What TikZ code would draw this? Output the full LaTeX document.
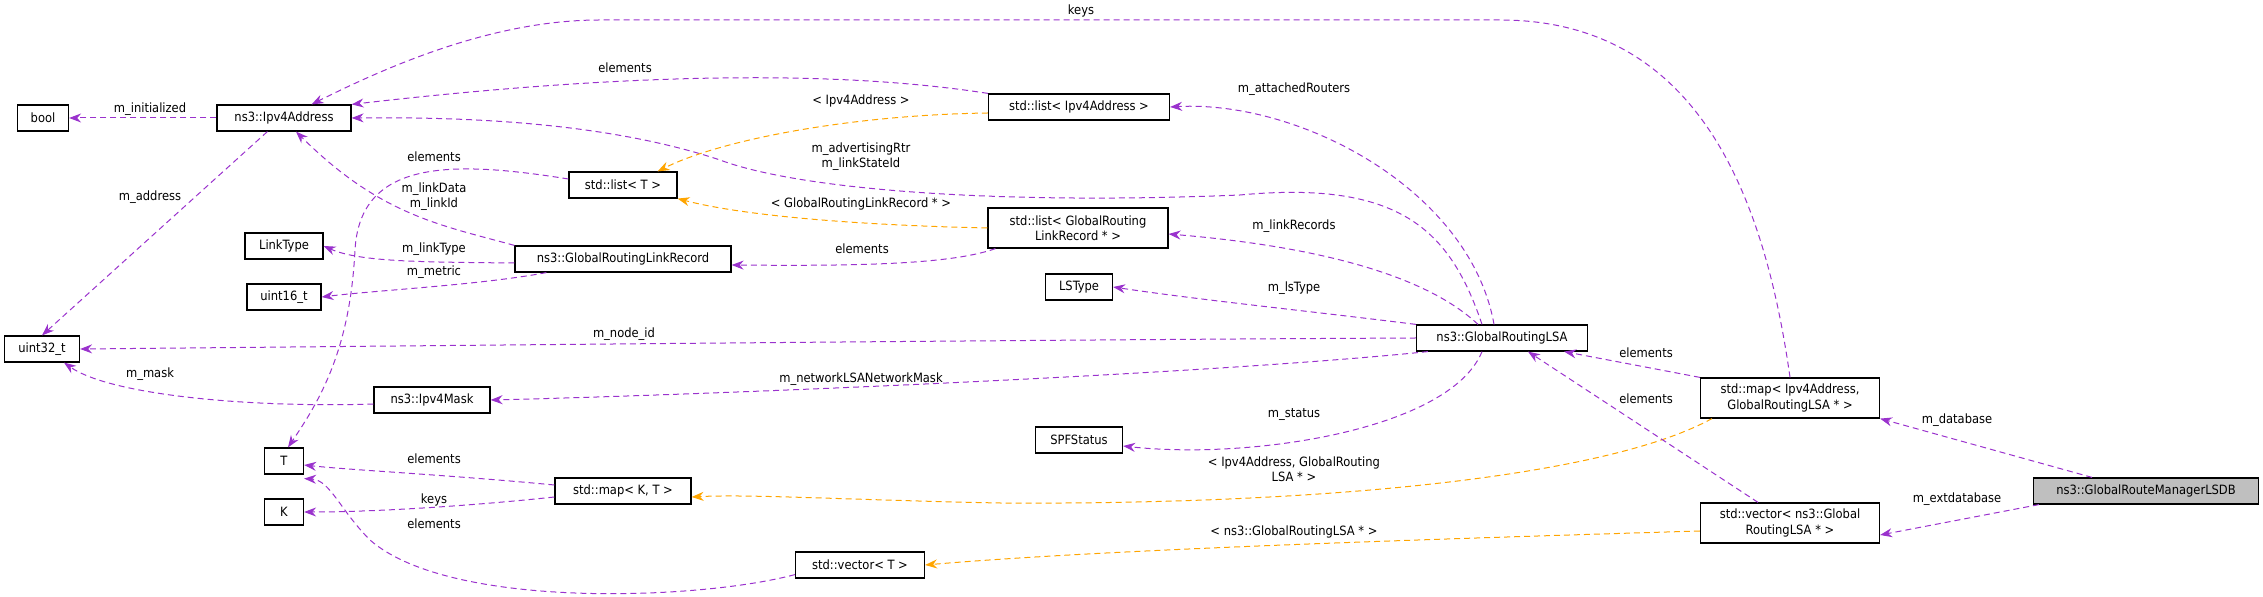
\documentclass[tikz,border=0pt]{standalone}
\usepackage{fontspec}
\setmainfont{DejaVu Sans Condensed}
\usetikzlibrary{arrows.meta}
\definecolor{pur}{HTML}{9A32CD}
\definecolor{ora}{HTML}{FFA500}
\definecolor{gr}{HTML}{BFBFBF}
\begin{document}
\begin{tikzpicture}[x=0.5pt,y=-0.5pt,
  box/.style={draw,line width=0.6pt,inner sep=2pt,minimum height=13pt,font=\fontsize{6.4}{7.6}\selectfont,align=center},
  lbl/.style={font=\fontsize{6.4}{7.6}\selectfont,align=center,inner sep=0pt},
  e/.style={draw=pur,line width=0.5pt,dash pattern=on 3pt off 2pt,-{Stealth[length=6pt,width=4.5pt,fill=pur]}},
  o/.style={draw=ora,line width=0.5pt,dash pattern=on 3pt off 2pt,-{Stealth[length=6pt,width=4.5pt,fill=ora]}}]
\useasboundingbox (0,0) rectangle (2263,597);
\node[box,minimum width=25.5pt] (bool) at (43,118) {bool};
\node[box,minimum width=67pt] (ip) at (284,118) {ns3::Ipv4Address};
\node[box,minimum width=39pt] (lt) at (284,246) {LinkType};
\node[box,minimum width=37pt] (u16) at (284,297) {uint16\_t};
\node[box,minimum width=37.5pt] (u32) at (42,349) {uint32\_t};
\node[box,minimum width=19.5pt] (T) at (284,461) {T};
\node[box,minimum width=19.5pt] (K) at (284,512) {K};
\node[box,minimum width=54pt] (lT) at (623,185) {std::list< T >};
\node[box,minimum width=108pt] (lr) at (623,259) {ns3::GlobalRoutingLinkRecord};
\node[box,minimum width=58pt] (mask) at (432,400) {ns3::Ipv4Mask};
\node[box,minimum width=68pt] (mKT) at (623,491) {std::map< K, T >};
\node[box,minimum width=64.5pt] (vT) at (860,565) {std::vector< T >};
\node[box,minimum width=90.5pt] (lip) at (1079,107) {std::list< Ipv4Address >};
\node[box,minimum width=90pt,minimum height=20pt,inner sep=1pt] (llr) at (1078,228) {std::list< GlobalRouting\\LinkRecord * >};
\node[box,minimum width=33.5pt] (ls) at (1079,287) {LSType};
\node[box,minimum width=43.5pt] (spf) at (1079,440) {SPFStatus};
\node[box,minimum width=85.5pt] (lsa) at (1502,338) {ns3::GlobalRoutingLSA};
\node[box,minimum width=89.5pt,minimum height=20pt,inner sep=1pt] (mip) at (1790,398) {std::map< Ipv4Address,\\GlobalRoutingLSA * >};
\node[box,minimum width=89.5pt,minimum height=20pt,inner sep=1pt] (vg) at (1790,523) {std::vector< ns3::Global\\RoutingLSA * >};
\node[box,fill=gr,minimum width=112.5pt] (db) at (2146,491) {ns3::GlobalRouteManagerLSDB};
% edges
\draw[e] (ip.west) -- (bool.east);
\draw[e] (ip.south west) ++(51,0) -- (u32.north);
\draw[e] (lip.north west) .. controls (850,72) and (650,70) .. (ip.north east);
\draw[e] (mip.north) .. controls (1765,200) and (1700,20) .. (1500,20) -- (600,20) .. controls (500,20) and (400,60) .. ([xshift=-20pt]ip.north east);
\draw[e] ([xshift=-10pt]lsa.north) .. controls (1450,230) and (1400,180) .. (1240,195) .. controls (1000,205) and (800,190) .. (720,160) .. controls (600,120) and (450,117) .. (ip.east);
\draw[e] ([xshift=-4pt]lsa.north) .. controls (1470,190) and (1300,100) .. (lip.east);
\draw[o] ([yshift=-3pt]lip.west) .. controls (850,115) and (720,140) .. ([xshift=-10pt]lT.north east);
\draw[o] (llr.west) .. controls (850,225) and (740,215) .. (lT.south east);
\draw[e] ([yshift=3pt]lT.west) .. controls (450,160) and (360,160) .. (355,250) .. controls (350,350) and (320,400) .. ([xshift=2pt]T.north);
\draw[e] (lr.north west) .. controls (440,225) and (380,215) .. ([xshift=6pt]ip.south);
\draw[e] ([yshift=-2pt]lr.west) .. controls (420,262) and (360,262) .. (lt.east);
\draw[e] ([xshift=16pt]lr.south west) .. controls (480,285) and (380,290) .. (u16.east);
\draw[e] ([xshift=4pt]llr.south west) .. controls (950,265) and (850,266) .. ([yshift=-3pt]lr.east);
\draw[e] ([xshift=-12pt]lsa.north) .. controls (1420,270) and (1300,245) .. ([yshift=-3pt]llr.east);
\draw[e] (lsa.north west) .. controls (1300,310) and (1200,300) .. (ls.east);
\draw[e] (lsa.west) .. controls (1000,340) and (400,346) .. (u32.east);
\draw[e] ([xshift=6pt]lsa.south west) .. controls (1200,375) and (700,395) .. (mask.east);
\draw[e] ([yshift=-2pt]mask.west) .. controls (250,408) and (110,395) .. ([xshift=11pt]u32.south);
\draw[e] ([xshift=-10pt]lsa.south) .. controls (1450,430) and (1250,460) .. ([yshift=-3pt]spf.east);
\draw[e] ([yshift=3pt]mKT.west) .. controls (450,475) and (350,470) .. ([yshift=-2pt]T.east);
\draw[e] ([yshift=-3pt]mKT.west) .. controls (480,505) and (380,512) .. (K.east);
\draw[e] ([yshift=2pt]vT.south west) .. controls (700,600) and (450,610) .. (370,540) .. controls (340,510) and (330,480) .. ([yshift=-2pt]T.south east);
\draw[o] ([xshift=6pt]mip.south west) .. controls (1600,480) and (1300,505) .. (1000,503) .. controls (850,500) and (750,494) .. ([yshift=-3pt]mKT.east);
\draw[o] ([yshift=-4pt]vg.west) .. controls (1400,540) and (1100,550) .. (vT.east);
\draw[e] (mip.north west) -- ([xshift=-12pt]lsa.south east);
\draw[e] ([xshift=-16pt]vg.north) -- ([xshift=13pt]lsa.south);
\draw[e] ([xshift=-27pt]db.north) -- (mip.south east);
\draw[e] ([xshift=3pt]db.south west) -- ([yshift=-6pt]vg.east);
% labels
\node[lbl] (l1) at (150,109) {m\_initialized};
\node[lbl] (l2) at (150,197) {m\_address};
\node[lbl] (l3) at (625,68) {elements};
\node[lbl] (l4) at (1081,11) {keys};
\node[lbl] (l5) at (861,101) {< Ipv4Address >};
\node[lbl] (l6) at (861,157) {m\_advertisingRtr\\m\_linkStateId};
\node[lbl] (l7) at (434,157) {elements};
\node[lbl] (l8) at (434,197) {m\_linkData\\m\_linkId};
\node[lbl] (l9) at (861,204) {< GlobalRoutingLinkRecord * >};
\node[lbl] (l10) at (434,249) {m\_linkType};
\node[lbl] (l11) at (434,272) {m\_metric};
\node[lbl] (l12) at (862,249) {elements};
\node[lbl] (l13) at (624,334) {m\_node\_id};
\node[lbl] (l14) at (150,374) {m\_mask};
\node[lbl] (l15) at (861,379) {m\_networkLSANetworkMask};
\node[lbl] (l16) at (434,459) {elements};
\node[lbl] (l17) at (434,500) {keys};
\node[lbl] (l18) at (434,524) {elements};
\node[lbl] (l19) at (1294,89) {m\_attachedRouters};
\node[lbl] (l20) at (1294,226) {m\_linkRecords};
\node[lbl] (l21) at (1294,288) {m\_lsType};
\node[lbl] (l22) at (1294,415) {m\_status};
\node[lbl] (l23) at (1294,469) {< Ipv4Address, GlobalRouting\\LSA * >};
\node[lbl] (l24) at (1294,532) {< ns3::GlobalRoutingLSA * >};
\node[lbl] (l25) at (1646,353) {elements};
\node[lbl] (l26) at (1646,399) {elements};
\node[lbl] (l27) at (1957,420) {m\_database};
\node[lbl] (l28) at (1957,499) {m\_extdatabase};
\end{tikzpicture}
\end{document}
